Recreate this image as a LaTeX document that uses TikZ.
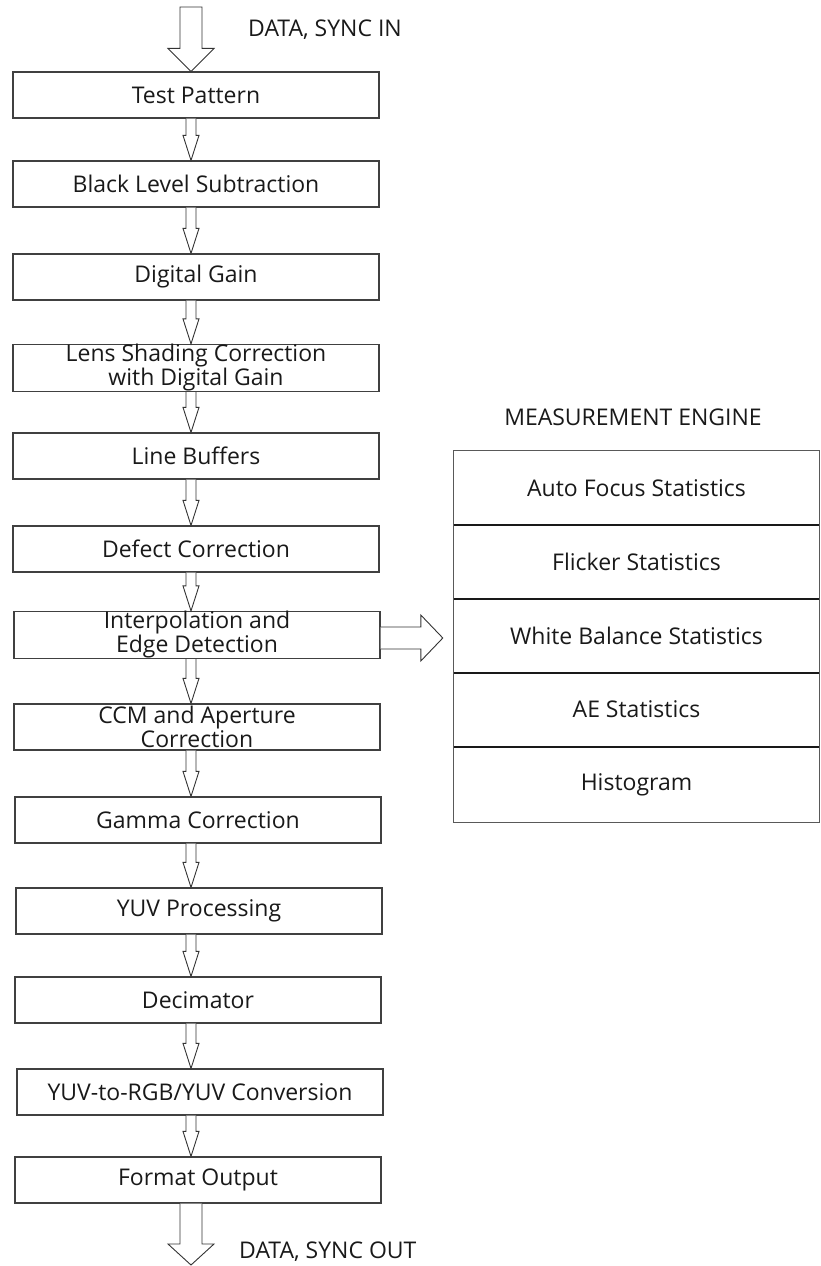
\documentclass[tikz,border=0pt]{standalone}
\usepackage{fontspec}
\setmainfont{Open Sans}
\usetikzlibrary{calc}
\newcommand\downarr[2]{%
  \coordinate (s-#1) at (#1.south -| ax);
  \coordinate (t-#2) at (#2.north -| ax);
  \draw[hollow] ($(s-#1)+(-5,0)$) -- ($(t-#2)+(-5,-25)$) -- ($(t-#2)+(-8,-25)$) -- (t-#2)
    -- ($(t-#2)+(8,-25)$) -- ($(t-#2)+(5,-25)$) -- ($(s-#1)+(5,0)$);}
\begin{document}
\begin{tikzpicture}[x=1pt,y=-1pt,
  stage/.style={draw=black!75, line width=1.2pt, minimum width=366pt, minimum height=46pt,
    inner sep=0pt, align=center, font=\fontsize{23}{21.5}\selectfont, text=black!90},
  stat/.style={minimum width=365pt, minimum height=74pt, inner sep=0pt,
    font=\fontsize{23}{24}\selectfont, text=black!90},
  lbl/.style={font=\fontsize{23}{24}\selectfont, text=black!90, inner sep=0pt},
  hollow/.style={draw=black!80, line width=0.9pt, fill=white, line join=miter},
  frame/.style={draw=black!65, line width=1.2pt},
  divider/.style={draw=black!90, line width=1.6pt}]
\useasboundingbox (0,0) rectangle (820,1266);
\coordinate (ax) at (191,0);
% pipeline stages
\node[stage] (tp)  at (196,95)   {Test Pattern};
\node[stage] (bls) at (196,184)  {Black Level Subtraction};
\node[stage] (dg)  at (196,277)  {Digital Gain};
\node[stage] (lsc) at (196,368)  {Lens Shading Correction\\with Digital Gain};
\node[stage] (lb)  at (196,456)  {Line Buffers};
\node[stage] (dc)  at (196,549)  {Defect Correction};
\node[stage] (ie)  at (197,635)  {Interpolation and\\Edge Detection};
\node[stage] (ccm) at (197,727)  {CCM and Aperture\\Correction};
\node[stage] (gc)  at (198,820)  {Gamma Correction};
\node[stage] (yuv) at (199,911)  {YUV Processing};
\node[stage] (dec) at (198,1000) {Decimator};
\node[stage] (cnv) at (200,1092) {YUV-to-RGB/YUV Conversion};
\node[stage] (fo)  at (198,1180) {Format Output};
% arrows between stages
\downarr{tp}{bls}
\downarr{bls}{dg}
\downarr{dg}{lsc}
\downarr{lsc}{lb}
\downarr{lb}{dc}
\downarr{dc}{ie}
\downarr{ie}{ccm}
\downarr{ccm}{gc}
\downarr{gc}{yuv}
\downarr{yuv}{dec}
\downarr{dec}{cnv}
\downarr{cnv}{fo}
% input arrow
\coordinate (intop) at (191,7);
\coordinate (intip) at (tp.north -| ax);
\draw[hollow] ($(intop)+(-11,0)$) -- ($(intip)+(-11,-23)$) -- ($(intip)+(-23,-23)$) -- (intip)
  -- ($(intip)+(23,-23)$) -- ($(intip)+(11,-23)$) -- ($(intop)+(11,0)$) -- cycle;
\node[lbl, anchor=west] (din) at (248,30) {DATA, SYNC IN};
% output arrow
\coordinate (outtop) at (fo.south -| ax);
\coordinate (outtip) at (191,1265);
\draw[hollow] ($(outtop)+(-11,0)$) -- ($(outtip)+(-11,-21)$) -- ($(outtip)+(-23,-21)$) -- (outtip)
  -- ($(outtip)+(23,-21)$) -- ($(outtip)+(11,-21)$) -- ($(outtop)+(11,0)$);
\node[lbl, anchor=west] (dout) at (239,1252) {DATA, SYNC OUT};
% measurement engine
\node[lbl] (me) at (633,417) {MEASUREMENT ENGINE};
\node[stat] (af)   at (636.5,488)   {Auto Focus Statistics};
\node[stat] (fl)   at (636.5,562)   {Flicker Statistics};
\node[stat] (wb)   at (636.5,636)   {White Balance Statistics};
\node[stat, minimum height=73pt] (ae) at (636.5,709.5) {AE Statistics};
\node[stat] (hg)   at (636.5,785)   {Histogram};
\draw[frame] (af.north west) rectangle (hg.south east);
\draw[divider] (af.south west) -- (af.south east);
\draw[divider] (fl.south west) -- (fl.south east);
\draw[divider] (wb.south west) -- (wb.south east);
\draw[divider, line width=1.2pt] (ae.south west) -- (ae.south east);
\draw[divider, line width=1.2pt] (hg.north west) -- (hg.north east);
% arrow to measurement engine
\coordinate (rs) at (ie.east |- 0,638);
\coordinate (rt) at ($(wb.west |- rs)+(-11,0)$);
\draw[hollow] ($(rs)+(0,-11)$) -- ($(rt)+(-22,-11)$) -- ($(rt)+(-22,-23)$) -- (rt)
  -- ($(rt)+(-22,23)$) -- ($(rt)+(-22,11)$) -- ($(rs)+(0,11)$);
\end{tikzpicture}
\end{document}
